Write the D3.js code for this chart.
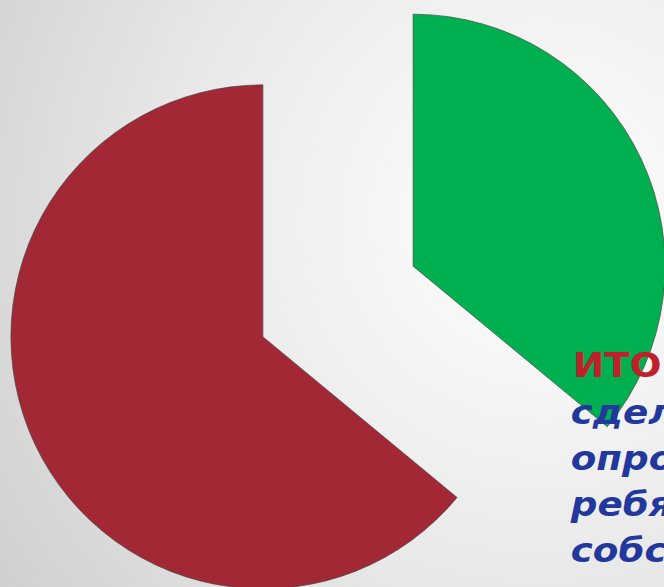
<!DOCTYPE html>
<html>
<head>
<meta charset="utf-8">
<script src="https://d3js.org/d3.v7.min.js"></script>
<style>
  html, body { margin: 0; padding: 0; overflow: hidden; }
</style>
</head>
<body>
<div id="chart"></div>
<script>
// Data
const categories = ['Да', 'Нет'];
const values = [36, 64];
const colors = ['#00b050', '#a12834'];

const titleLine = 'ИТОГИ:';
const textLines = ['сделали', 'опрос', 'ребята', 'собственный'];

let width = 664, height = 587;

let svg = d3.select('#chart')
    .append('svg')
    .attr('width', width)
    .attr('height', height);

// Background gradient (slide style)
let defs = svg.append('defs');
let grad = defs.append('radialGradient')
    .attr('id', 'bg')
    .attr('gradientUnits', 'userSpaceOnUse')
    .attr('cx', 540).attr('cy', 220).attr('r', 680);
grad.append('stop').attr('offset', '0%').attr('stop-color', '#ffffff');
grad.append('stop').attr('offset', '55%').attr('stop-color', '#e8e8e8');
grad.append('stop').attr('offset', '100%').attr('stop-color', '#cdcdcd');

svg.append('rect')
    .attr('width', width)
    .attr('height', height)
    .attr('fill', 'url(#bg)');

// Pie setup
let cx = 338, cy = 301.5;
let radius = 252;
let explode = 83;

let pie = d3.pie().sort(null).value(d => d);
let arc = d3.arc().innerRadius(0).outerRadius(radius);

let slices = svg.append('g')
    .attr('transform', `translate(${cx},${cy})`)
    .selectAll('path')
    .data(pie(values))
    .enter()
    .append('path')
    .attr('transform', d => {
        let mid = (d.startAngle + d.endAngle) / 2;
        return `translate(${Math.sin(mid) * explode},${-Math.cos(mid) * explode})`;
    })
    .attr('d', arc)
    .attr('fill', (d, i) => colors[i])
    .attr('stroke', '#4a4a4a')
    .attr('stroke-opacity', 0.7)
    .attr('stroke-width', 1);

// Text block on the right (cut off by the slide edge)
let textBlock = svg.append('g')
    .attr('transform', 'translate(573,0) scale(1.13,1)');

textBlock.append('text')
    .attr('x', 0)
    .attr('y', 377)
    .attr('font-family', 'DejaVu Sans')
    .attr('font-weight', 'bold')
    .attr('font-size', 33)
    .attr('fill', '#c0202a')
    .text(titleLine);

textLines.forEach((t, i) => {
    textBlock.append('text')
        .attr('x', -2)
        .attr('y', 424 + i * 46)
        .attr('font-family', 'DejaVu Sans')
        .attr('font-weight', 'bold')
        .attr('font-style', 'italic')
        .attr('font-size', 33)
        .attr('fill', '#22389c')
        .text(t);
});
</script>
</body>
</html>
